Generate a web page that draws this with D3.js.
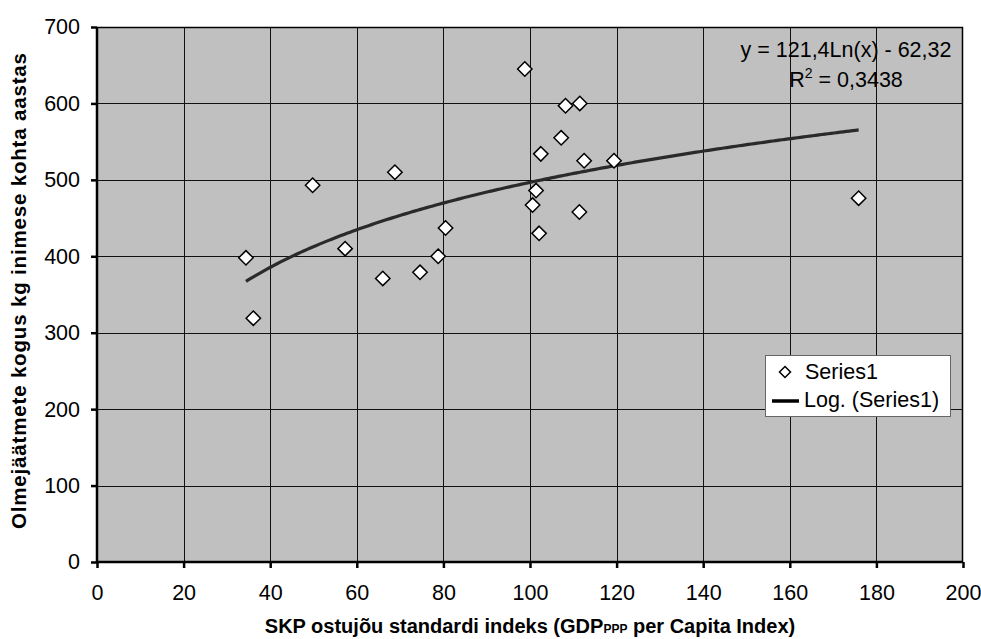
<!DOCTYPE html>
<html>
<head>
<meta charset="utf-8">
<script src="https://cdn.jsdelivr.net/npm/d3@7"></script>
<style>
  html, body { margin: 0; padding: 0; background: #fff; }
  svg { display: block; font-family: "Liberation Sans", Arial, sans-serif; }
</style>
</head>
<body>
<svg id="chart" width="981" height="639"></svg>
<script>
// ---- data ----
const gdpIndex = [34.4, 36.1, 49.8, 57.3, 68.8, 66.0, 74.6, 78.8, 80.5, 98.8, 100.6, 101.4, 102.1, 102.5, 107.2, 108.2, 111.5, 111.4, 112.5, 119.4, 175.9];
const wastePerCapita = [398, 319, 493, 410, 510, 371, 379, 400, 437, 645, 467, 486, 430, 534, 555, 597, 600, 458, 525, 525, 476];
const xTicks = [0, 20, 40, 60, 80, 100, 120, 140, 160, 180, 200];
const yTicks = [0, 100, 200, 300, 400, 500, 600, 700];
const trendA = 121.4, trendB = -62.32;
const equationText = "y = 121,4Ln(x) - 62,32";
const r2Text = "0,3438";
const seriesName = "Series1";
const trendName = "Log. (Series1)";

// ---- layout ----
const FS = "21.5px";
const svg = d3.select("#chart");
const pL = 97, pR = 963, pT = 27, pB = 562;
const x = d3.scaleLinear().domain([0, 200]).range([pL, pR]);
const y = d3.scaleLinear().domain([0, 700]).range([pB, pT]);

// plot background
svg.append("rect").attr("x", pL).attr("y", pT)
  .attr("width", pR - pL).attr("height", pB - pT)
  .attr("fill", "#c0c0c0");

// grid
const grid = svg.append("g");
grid.selectAll("line.v").data(xTicks.filter(d => d > 0 && d < 200)).join("line")
  .attr("x1", d => Math.round(x(d)) + 0.5).attr("x2", d => Math.round(x(d)) + 0.5)
  .attr("y1", pT).attr("y2", pB)
  .attr("stroke", "#111").attr("stroke-width", 1);
grid.selectAll("line.h").data(yTicks.filter(d => d > 0 && d < 700)).join("line")
  .attr("y1", d => Math.round(y(d)) + 0.5).attr("y2", d => Math.round(y(d)) + 0.5)
  .attr("x1", pL).attr("x2", pR)
  .attr("stroke", "#111").attr("stroke-width", 1);

// plot border (top/right)
svg.append("path")
  .attr("d", `M${pL},${pT + 0.5}H${pR - 0.5}V${pB}`)
  .attr("fill", "none").attr("stroke", "#000").attr("stroke-width", 1.5);

// axes
const xAxis = d3.axisBottom(x).tickValues(xTicks).tickSize(6).tickPadding(17).tickFormat(d3.format("d"));
const yAxis = d3.axisLeft(y).tickValues(yTicks).tickSize(6).tickPadding(11).tickFormat(d3.format("d"));

const gx = svg.append("g").attr("transform", `translate(0,${pB})`).call(xAxis);
const gy = svg.append("g").attr("transform", `translate(${pL},0)`).call(yAxis);
[gx, gy].forEach(g => {
  g.select(".domain").attr("stroke", "#000").attr("stroke-width", 2.5);
  g.selectAll(".tick line").attr("stroke", "#000").attr("stroke-width", 2.5);
  g.selectAll(".tick text").attr("fill", "#000")
    .style("font-size", FS).style("font-family", "'Liberation Sans', Arial, sans-serif");
});
gx.select(".domain").attr("d", `M${pL},0H${pR}`);
gy.select(".domain").attr("d", `M0,${pB}V${pT}`);

// trend line
const xMin = d3.min(gdpIndex), xMax = d3.max(gdpIndex);
const trendX = d3.range(0, 201).map(i => xMin + (xMax - xMin) * i / 200);
const line = d3.line().x(d => x(d)).y(d => y(trendA * Math.log(d) + trendB));
svg.append("path").datum(trendX).attr("d", line)
  .attr("fill", "none").attr("stroke", "#2a2a2a").attr("stroke-width", 3.2);

// points
const diamond = s => `M0,${-s}L${s},0L0,${s}L${-s},0Z`;
svg.append("g").selectAll("path").data(gdpIndex.map((d, i) => [d, wastePerCapita[i]])).join("path")
  .attr("transform", d => `translate(${x(d[0])},${y(d[1])})`)
  .attr("d", diamond(7.2))
  .attr("fill", "#fff").attr("stroke", "#000").attr("stroke-width", 1.5);

// equation
svg.append("text").attr("x", 846).attr("y", 57).attr("text-anchor", "middle")
  .style("font-size", FS).text(equationText);
const r2 = svg.append("text").attr("x", 846).attr("y", 87).attr("text-anchor", "middle")
  .style("font-size", FS);
r2.append("tspan").text("R");
r2.append("tspan").attr("dy", -9).style("font-size", "14px").text("2");
r2.append("tspan").attr("dy", 9).text(" = " + r2Text);

// legend
const lg = svg.append("g");
lg.append("rect").attr("x", 765.5).attr("y", 355.5).attr("width", 185).attr("height", 61)
  .attr("fill", "#fff").attr("stroke", "#666").attr("stroke-width", 1);
lg.append("path").attr("transform", "translate(785,372)").attr("d", diamond(5.5))
  .attr("fill", "#fff").attr("stroke", "#000").attr("stroke-width", 1.5);
lg.append("text").attr("x", 805).attr("y", 379).style("font-size", FS).text(seriesName);
lg.append("line").attr("x1", 772).attr("x2", 799).attr("y1", 401).attr("y2", 401)
  .attr("stroke", "#000").attr("stroke-width", 3.5);
lg.append("text").attr("x", 804).attr("y", 407).style("font-size", FS).text(trendName);

// axis titles
const xt = svg.append("text").attr("x", 530).attr("y", 633).attr("text-anchor", "middle")
  .style("font-size", "20px").style("font-weight", "bold");
xt.append("tspan").text("SKP ostujõu standardi indeks (GDP");
xt.append("tspan").style("font-size", "12px").text("PPP");
xt.append("tspan").text(" per Capita Index)");

svg.append("text").attr("transform", `translate(26,291) rotate(-90)`)
  .attr("text-anchor", "middle").style("font-size", "20.5px").style("font-weight", "bold")
  .attr("textLength", 476).attr("lengthAdjust", "spacing")
  .text("Olmejäätmete kogus kg inimese kohta aastas");
</script>
</body>
</html>
